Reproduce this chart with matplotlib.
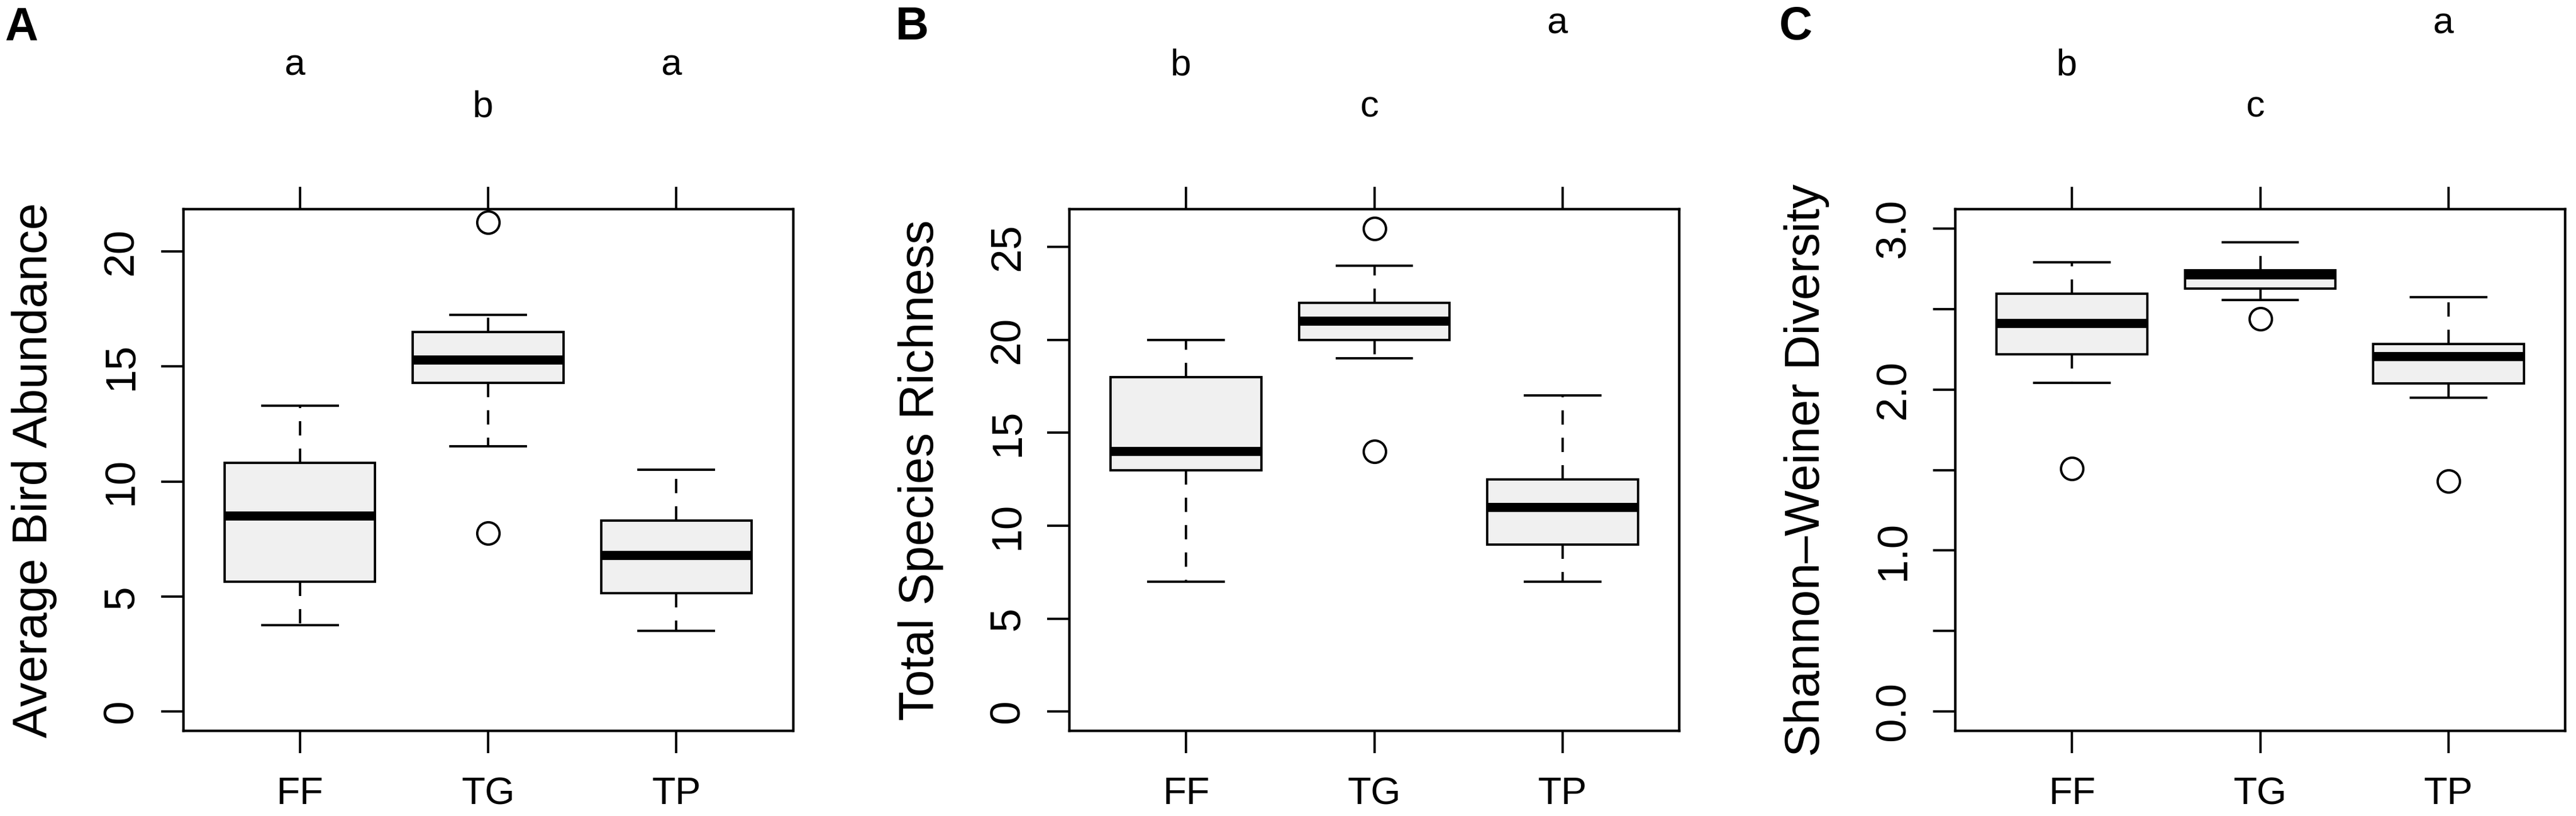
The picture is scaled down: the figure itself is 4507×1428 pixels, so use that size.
import matplotlib
matplotlib.use("Agg")
import matplotlib.pyplot as plt
import matplotlib.transforms as mtransforms

plt.rcParams['font.family'] = ['Liberation Sans', 'DejaVu Sans']

# ---------------- data ----------------
categories = ["FF", "TG", "TP"]

# Panel A: Average Bird Abundance  (whislo, q1, med, q3, whishi)
abund_lo  = [3.76, 11.54, 3.51]
abund_q1  = [5.65, 14.29, 5.15]
abund_med = [8.50, 15.28, 6.78]
abund_q3  = [10.82, 16.50, 8.30]
abund_hi  = [13.29, 17.24, 10.52]
abund_out = [[], [21.27, 7.76], []]
abund_letters = ["a", "b", "a"]
abund_rows = [2, 3, 2]

# Panel B: Total Species Richness
rich_lo  = [7, 19, 7]
rich_q1  = [13, 20, 9]
rich_med = [14, 21, 11]
rich_q3  = [18, 22, 12.5]
rich_hi  = [20, 24, 17]
rich_out = [[], [26, 14], []]
rich_letters = ["b", "c", "a"]
rich_rows = [2, 3, 1]

# Panel C: Shannon-Weiner Diversity
div_lo  = [2.04, 2.557, 1.948]
div_q1  = [2.22, 2.625, 2.039]
div_med = [2.41, 2.712, 2.204]
div_q3  = [2.595, 2.741, 2.282]
div_hi  = [2.79, 2.913, 2.573]
div_out = [[1.51], [2.437], [1.43]]
div_letters = ["b", "c", "a"]
div_rows = [2, 3, 1]

panels = [
    dict(tag="A", ylabel="Average Bird Abundance",
         lo=abund_lo, q1=abund_q1, med=abund_med, q3=abund_q3, hi=abund_hi, out=abund_out,
         letters=abund_letters, rows=abund_rows,
         ylim=(-0.84, 21.84), yticks=[0, 5, 10, 15, 20],
         yticklabels=["0", "5", "10", "15", "20"]),
    dict(tag="B", ylabel="Total Species Richness",
         lo=rich_lo, q1=rich_q1, med=rich_med, q3=rich_q3, hi=rich_hi, out=rich_out,
         letters=rich_letters, rows=rich_rows,
         ylim=(-1.04, 27.04), yticks=[0, 5, 10, 15, 20, 25],
         yticklabels=["0", "5", "10", "15", "20", "25"]),
    dict(tag="C", ylabel="Shannon\u2013Weiner Diversity",
         lo=div_lo, q1=div_q1, med=div_med, q3=div_q3, hi=div_hi, out=div_out,
         letters=div_letters, rows=div_rows,
         ylim=(-0.12, 3.12), yticks=[0, 0.5, 1.0, 1.5, 2.0, 2.5, 3.0],
         yticklabels=["0.0", "", "1.0", "", "2.0", "", "3.0"]),
]

# ---------------- layout ----------------
W, H, DPI = 4507, 1428, 100
fig = plt.figure(figsize=(W / DPI, H / DPI), dpi=DPI)
fig.patch.set_facecolor("white")

ax_top, ax_bot = 366, 1279
ax_h = ax_bot - ax_top
ax_w = 1067
lefts = [320.5, 1871, 3421]
tag_x = [9, 1567, 3113]
row_baseline = {1: 58, 2: 131, 3: 204}

px2pt = 72.0 / DPI
tick_len = 39 * px2pt
lw = 3.0

for i, p in enumerate(panels):
    ax = fig.add_axes([lefts[i] / W, (H - ax_bot) / H, ax_w / W, ax_h / H])
    stats = []
    for k, c in enumerate(categories):
        stats.append(dict(label=c, whislo=p["lo"][k], q1=p["q1"][k], med=p["med"][k],
                          q3=p["q3"][k], whishi=p["hi"][k], fliers=p["out"][k]))
    ax.bxp(stats, positions=[1, 2, 3], widths=0.8, capwidths=0.4, patch_artist=True,
           showfliers=True,
           boxprops=dict(facecolor="#f0f0f0", edgecolor="black", linewidth=lw),
           medianprops=dict(color="black", linewidth=11.5, solid_capstyle="butt"),
           whiskerprops=dict(color="black", linewidth=lw, linestyle=(0, (6, 5.5))),
           capprops=dict(color="black", linewidth=lw),
           flierprops=dict(marker="o", markersize=39 * px2pt, markerfacecolor="none",
                           markeredgecolor="black", markeredgewidth=lw, linestyle="none"))
    ax.set_xlim(0.38, 3.62)
    ax.set_ylim(*p["ylim"])
    for s in ax.spines.values():
        s.set_linewidth(3.2)
    ax.set_xticks([1, 2, 3])
    ax.set_xticklabels(categories)
    ax.set_yticks(p["yticks"])
    ax.set_yticklabels(p["yticklabels"])
    ax.tick_params(axis="x", which="both", direction="out", length=tick_len, width=lw,
                   top=True, bottom=True, labeltop=False, labelbottom=True,
                   labelsize=48.5, pad=89 * px2pt)
    ax.tick_params(axis="y", which="both", direction="out", length=tick_len, width=lw,
                   left=True, right=False, labelsize=54, pad=49.5 * px2pt)
    for lbl in ax.get_xticklabels():
        lbl.set_va("baseline")
    for lbl in ax.get_yticklabels():
        lbl.set_rotation(90)
        lbl.set_rotation_mode("anchor")
        lbl.set_ha("center")
        lbl.set_va("baseline")

    # y label
    fig.text((lefts[i] - 238) / W, 1 - (ax_top + ax_h / 2) / H, p["ylabel"],
             rotation=90, rotation_mode="anchor", ha="center", va="baseline",
             fontsize=61)

    # significance letters
    trans = mtransforms.offset_copy(ax.get_xaxis_transform(), fig=fig, x=-9, y=0,
                                    units="dots")
    for k, (letter, row) in enumerate(zip(p["letters"], p["rows"])):
        yfrac = 1 + (ax_top - row_baseline[row]) / ax_h
        ax.text(k + 1, yfrac, letter, transform=trans, ha="center", va="baseline",
                fontsize=47, clip_on=False)

    # panel tag
    fig.text(tag_x[i] / W, 1 - 69 / H, p["tag"], ha="left", va="baseline",
             fontsize=58, fontweight="bold")

fig.savefig("out.png", dpi=DPI, facecolor="white")
